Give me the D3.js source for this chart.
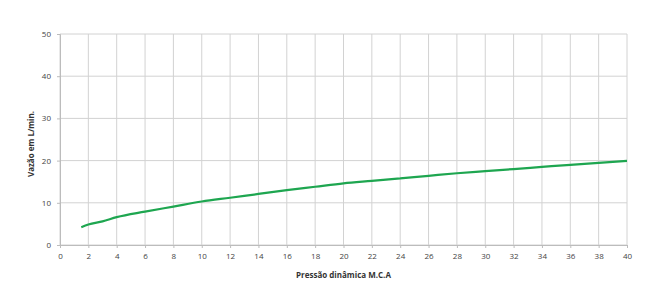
<!DOCTYPE html>
<html>
<head>
<meta charset="utf-8">
<script src="https://cdn.jsdelivr.net/npm/d3@7"></script>
<style>
  body { margin: 0; background: #fff; }
  text { font-family: "Open Sans", "Liberation Sans", sans-serif; fill: #444; }
</style>
</head>
<body>
<svg id="chart"></svg>
<script>
// pressure (M.C.A) and flow (L/min)
let pressure = [1.5, 2, 3, 4, 6, 8, 10, 12, 14, 16, 18, 20, 22, 24, 26, 28, 30, 32, 34, 36, 38, 40];
let flow = [4.2, 4.85, 5.6, 6.6, 7.9, 9.1, 10.3, 11.2, 12.1, 13.0, 13.8, 14.6, 15.2, 15.8, 16.4, 17.0, 17.5, 18.0, 18.5, 19.0, 19.45, 19.95];
let xTicks = d3.range(0, 41, 2);
let yTicks = [0, 10, 20, 30, 40, 50];

function getConfig() {
  let width = 653;
  let height = 302;
  let margin = { top: 34, bottom: 57, left: 60, right: 26 };
  let bodyWidth = width - margin.left - margin.right;
  let bodyHeight = height - margin.top - margin.bottom;
  let container = d3.select("#chart")
    .attr("width", width)
    .attr("height", height);
  return { width, height, margin, bodyWidth, bodyHeight, container };
}

function getScales(config) {
  let xScale = d3.scaleLinear().domain([0, 40]).range([0, config.bodyWidth]);
  let yScale = d3.scaleLinear().domain([0, 50]).range([config.bodyHeight, 0]);
  return { xScale, yScale };
}

function drawChart() {
  let config = getConfig();
  let { margin, container, bodyWidth, bodyHeight } = config;
  let { xScale, yScale } = getScales(config);

  let body = container.append("g")
    .attr("transform", `translate(${margin.left},${margin.top})`);

  // grid
  body.selectAll(".vgrid").data(xTicks).enter().append("line")
    .attr("x1", d => xScale(d)).attr("x2", d => xScale(d))
    .attr("y1", 0).attr("y2", bodyHeight)
    .style("stroke", "#d2d2d2").style("stroke-width", 1);
  body.selectAll(".hgrid").data(yTicks).enter().append("line")
    .attr("x1", 0).attr("x2", bodyWidth)
    .attr("y1", d => yScale(d)).attr("y2", d => yScale(d))
    .style("stroke", "#d2d2d2").style("stroke-width", 1);

  // axes
  let xAxis = body.append("g")
    .attr("transform", `translate(0,${bodyHeight})`)
    .call(d3.axisBottom(xScale).tickValues(xTicks).tickSize(3).tickPadding(5));
  let yAxis = body.append("g")
    .call(d3.axisLeft(yScale).tickValues(yTicks).tickSize(3).tickPadding(6));
  [xAxis, yAxis].forEach(a => {
    a.select(".domain").style("stroke", "#bcbcbc");
    a.selectAll(".tick line").style("stroke", "#bcbcbc");
    a.selectAll("text").style("font-size", "8px").style("fill", "#444");
  });

  // curve
  let line = d3.line()
    .x((d, i) => xScale(pressure[i]))
    .y(d => yScale(d))
    .curve(d3.curveMonotoneX);
  body.append("path")
    .datum(flow)
    .attr("d", line)
    .style("fill", "none")
    .style("stroke", "#1ea650")
    .style("stroke-width", 2.2);

  // labels
  container.append("text")
    .attr("x", margin.left + bodyWidth / 2)
    .attr("y", 278)
    .attr("text-anchor", "middle")
    .style("font-size", "8px")
    .style("font-weight", "bold")
    .style("fill", "#333")
    .text("Pressão dinâmica M.C.A");

  container.append("text")
    .attr("transform", `translate(34,${margin.top + 110}) rotate(-90)`)
    .attr("text-anchor", "middle")
    .style("font-size", "8px")
    .style("font-weight", "bold")
    .style("fill", "#333")
    .text("Vazão em L/min.");
}

drawChart();
</script>
</body>
</html>
